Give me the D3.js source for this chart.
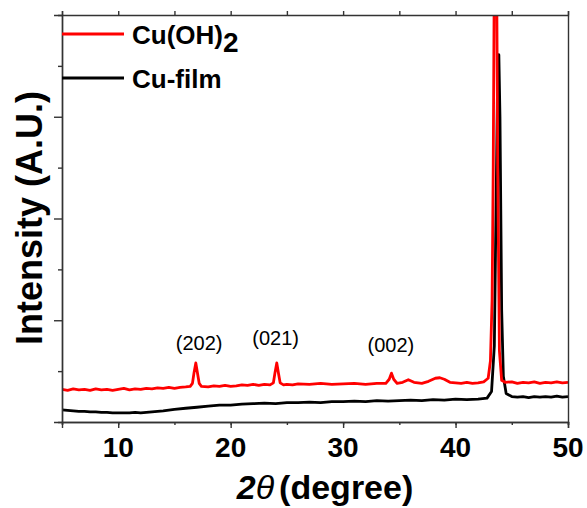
<!DOCTYPE html>
<html>
<head>
<meta charset="utf-8">
<script src="https://cdn.jsdelivr.net/npm/d3@7"></script>
<style>
  body { margin: 0; background: #fff; }
  text { font-family: "Liberation Sans", Arial, sans-serif; }
</style>
</head>
<body>
<div id="chart"></div>
<script>
// 2theta (degree) and intensity (a.u.)
const cuOH2_x = [5, 5.5, 6, 6.5, 7, 7.5, 8, 8.5, 9, 9.5, 10, 10.5, 11, 11.5, 12, 12.5, 13, 13.5, 14, 14.5, 15, 15.5, 16, 16.4, 16.6, 16.75, 16.9, 17.05, 17.2, 17.4, 18, 18.5, 19, 19.5, 20, 20.5, 21, 21.5, 22, 22.5, 23, 23.5, 23.8, 23.95, 24.1, 24.25, 24.4, 24.7, 25, 25.5, 26, 27, 28, 29, 30, 31, 32, 33, 33.8, 34.1, 34.3, 34.5, 34.8, 35.3, 35.8, 36.3, 37, 37.6, 38.2, 38.6, 39, 39.5, 40, 40.5, 41, 41.5, 42, 42.5, 42.9, 43.1, 43.25, 43.35, 43.45, 43.55, 43.65, 43.75, 43.9, 44.1, 44.4, 45, 45.5, 46, 46.5, 47, 47.5, 48, 48.5, 49, 49.5, 50];
const cuOH2_y = [0.64, 0.62, 0.65, 0.63, 0.64, 0.62, 0.65, 0.63, 0.64, 0.62, 0.64, 0.66, 0.63, 0.65, 0.64, 0.66, 0.65, 0.67, 0.66, 0.68, 0.66, 0.68, 0.69, 0.70, 0.76, 0.98, 1.16, 0.96, 0.76, 0.70, 0.69, 0.71, 0.70, 0.72, 0.70, 0.71, 0.73, 0.72, 0.74, 0.72, 0.74, 0.73, 0.77, 0.98, 1.16, 0.96, 0.77, 0.73, 0.74, 0.73, 0.75, 0.74, 0.76, 0.74, 0.75, 0.76, 0.74, 0.76, 0.76, 0.84, 0.96, 0.84, 0.76, 0.78, 0.83, 0.78, 0.76, 0.80, 0.86, 0.87, 0.84, 0.78, 0.77, 0.76, 0.78, 0.76, 0.77, 0.79, 0.86, 1.2, 2.4, 5, 9, 10, 9, 5, 1.4, 0.82, 0.78, 0.79, 0.76, 0.78, 0.77, 0.79, 0.76, 0.78, 0.77, 0.79, 0.77, 0.78];
const cuFilm_x = [5, 5.5, 6, 6.5, 7, 7.5, 8, 8.5, 9, 9.5, 10, 10.5, 11, 11.5, 12, 12.5, 13, 13.5, 14, 15, 16, 17, 18, 19, 20, 21, 22, 23, 24, 25, 26, 27, 28, 29, 30, 31, 32, 33, 34, 35, 36, 37, 38, 39, 40, 41, 42, 42.8, 43.2, 43.45, 43.6, 43.75, 43.85, 43.95, 44.1, 44.25, 44.5, 45, 45.5, 46, 46.5, 47, 47.5, 48, 48.5, 49, 49.5, 50];
const cuFilm_y = [0.24, 0.23, 0.22, 0.21, 0.21, 0.20, 0.20, 0.19, 0.19, 0.18, 0.18, 0.18, 0.18, 0.19, 0.18, 0.19, 0.20, 0.21, 0.22, 0.25, 0.27, 0.29, 0.31, 0.33, 0.33, 0.35, 0.36, 0.37, 0.36, 0.38, 0.38, 0.39, 0.38, 0.40, 0.40, 0.41, 0.40, 0.42, 0.41, 0.42, 0.43, 0.42, 0.44, 0.43, 0.45, 0.44, 0.45, 0.47, 0.6, 1.5, 4.2, 6.9, 7.22, 6.0, 2.2, 0.9, 0.56, 0.50, 0.49, 0.50, 0.48, 0.50, 0.49, 0.50, 0.49, 0.51, 0.49, 0.50];

const xTicks = [10, 20, 30, 40, 50];
const peakLabels = ["(202)", "(021)", "(002)"];
const peakPos = [17.2, 24.0, 34.25];
const peakLabelY = [1.41, 1.51, 1.37];

const series = [
  { name: "Cu(OH)", sub: "2", color: "#ff0000", x: cuOH2_x, y: cuOH2_y },
  { name: "Cu-film", sub: "", color: "#000000", x: cuFilm_x, y: cuFilm_y }
];

const width = 587, height = 508;
const margin = { top: 15, right: 19, bottom: 86, left: 62 };

const x = d3.scaleLinear().domain([5, 50]).range([margin.left, width - margin.right]);
const y = d3.scaleLinear().domain([0, 8]).range([height - margin.bottom, margin.top]);

const svg = d3.select("#chart").append("svg").attr("width", width).attr("height", height);

svg.append("defs").append("clipPath").attr("id", "clip")
  .append("rect")
  .attr("x", margin.left).attr("y", margin.top)
  .attr("width", x(50) - x(5)).attr("height", y(0) - y(8));

// lines
const line = d3.line().x(d => x(d[0])).y(d => y(d[1]));
const plot = svg.append("g").attr("clip-path", "url(#clip)");
series.slice().reverse().forEach(s => {
  plot.append("path")
    .datum(s.x.map((v, i) => [v, s.y[i]]))
    .attr("fill", "none")
    .attr("stroke", s.color)
    .attr("stroke-width", 2.8)
    .attr("stroke-linejoin", "round")
    .attr("d", line);
});

// axes
const axisColor = "#333";
const minorX = d3.range(5, 51, 5);

const bottomAxis = svg.append("g").attr("transform", `translate(0,${y(0)})`);
bottomAxis.call(d3.axisBottom(x).tickValues(minorX).tickSize(3).tickFormat(""));
bottomAxis.append("g").call(d3.axisBottom(x).tickValues(xTicks).tickSize(6).tickFormat(""));
bottomAxis.selectAll("path, line").attr("stroke", axisColor).attr("stroke-width", 1.4);

svg.append("g").selectAll("text")
  .data(xTicks)
  .join("text")
  .attr("x", d => x(d))
  .attr("y", y(0) + 35)
  .attr("text-anchor", "middle")
  .style("font-size", "28px")
  .style("font-weight", "bold")
  .text(d => d);

const topAxis = svg.append("g").attr("transform", `translate(0,${y(8)})`)
  .call(d3.axisTop(x).tickValues(minorX).tickSize(4).tickFormat(""));
topAxis.selectAll("path, line").attr("stroke", axisColor).attr("stroke-width", 1.4);

const leftAxis = svg.append("g").attr("transform", `translate(${x(5)},0)`)
  .call(d3.axisLeft(y).tickValues([1, 3, 5, 7]).tickSize(4).tickFormat(""));
leftAxis.append("g").call(d3.axisLeft(y).tickValues([2, 4, 6]).tickSize(8).tickFormat(""));
leftAxis.selectAll("path, line").attr("stroke", axisColor).attr("stroke-width", 1.4);

const rightAxis = svg.append("g").attr("transform", `translate(${x(50)},0)`)
  .call(d3.axisRight(y).tickValues([]).tickSize(0));
rightAxis.selectAll("path").attr("stroke", axisColor).attr("stroke-width", 1.4);

// peak labels
svg.append("g").selectAll("text")
  .data(peakLabels)
  .join("text")
  .attr("x", (d, i) => x(peakPos[i]))
  .attr("y", (d, i) => y(peakLabelY[i]))
  .attr("text-anchor", "middle")
  .style("font-size", "20px")
  .text(d => d);

// legend
const legend = svg.append("g");
series.forEach((s, i) => {
  const ly = 34 + i * 44;
  legend.append("line")
    .attr("x1", x(5)).attr("x2", x(5) + 62)
    .attr("y1", ly).attr("y2", ly)
    .attr("stroke", s.color).attr("stroke-width", 2.8);
  const t = legend.append("text")
    .attr("x", x(5) + 70).attr("y", ly + 10)
    .style("font-size", "26px").style("font-weight", "bold");
  t.append("tspan").text(s.name);
  if (s.sub) t.append("tspan").attr("dy", 8).style("font-size", "28px").text(s.sub);
});

// axis titles
const xl = svg.append("text")
  .attr("x", 325).attr("y", 499)
  .attr("text-anchor", "middle")
  .style("font-size", "34px").style("font-weight", "bold");
xl.append("tspan").style("font-style", "italic").text("2");
xl.append("tspan").style("font-style", "italic").style("font-weight", "normal").text("θ");
xl.append("tspan").attr("dx", 5).text("(degree)");

svg.append("text")
  .attr("transform", `translate(42,218) rotate(-90)`)
  .attr("text-anchor", "middle")
  .style("font-size", "36px").style("font-weight", "bold")
  .text("Intensity (A.U.)");
</script>
</body>
</html>
